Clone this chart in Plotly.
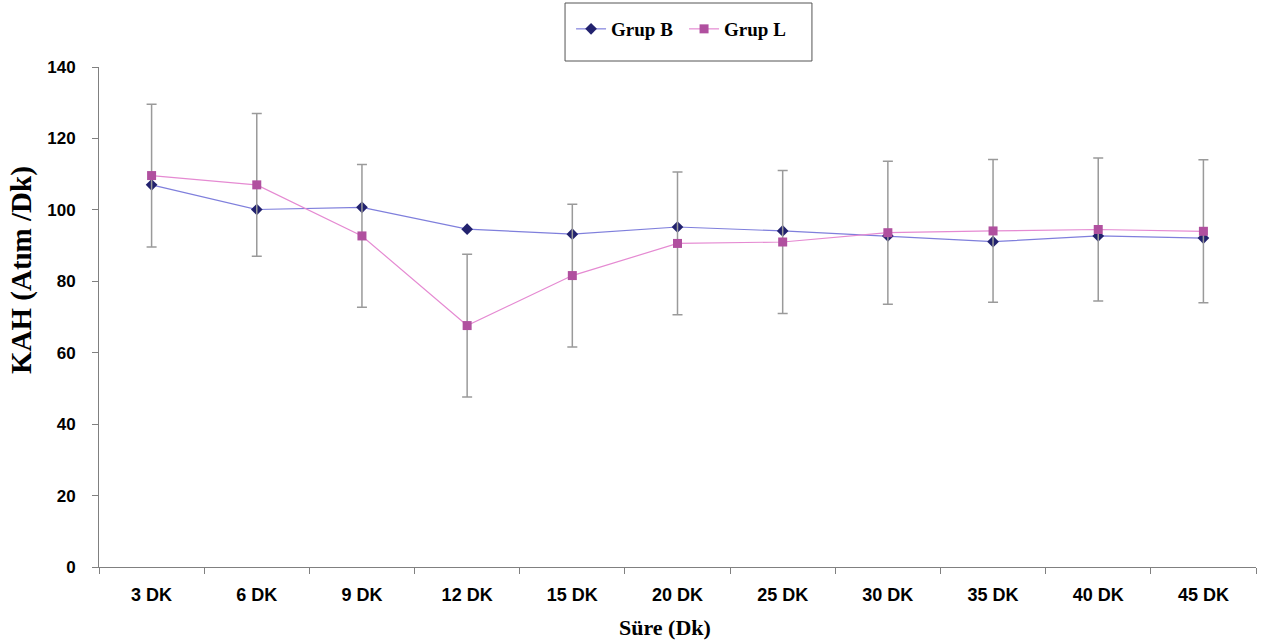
import plotly.graph_objects as go

categories = ["3 DK", "6 DK", "9 DK", "12 DK", "15 DK", "20 DK", "25 DK", "30 DK", "35 DK", "40 DK", "45 DK"]
grup_b = [107.0, 100.1, 100.7, 94.6, 93.2, 95.2, 94.1, 92.7, 91.1, 92.7, 92.1]
grup_l = [109.6, 107.0, 92.7, 67.6, 81.6, 90.6, 91.0, 93.6, 94.1, 94.5, 94.0]
grup_l_sd = [20.0, 20.0, 20.0, 20.0, 20.0, 20.0, 20.0, 20.0, 20.0, 20.0, 20.0]
y_ticks = [0, 20, 40, 60, 80, 100, 120, 140]

fig = go.Figure()
fig.add_trace(go.Scatter(
    x=categories, y=grup_b, name="Grup B", mode="lines+markers",
    line=dict(color="#7f7fdc", width=1.2),
    marker=dict(symbol="diamond", size=9, color="#22226e"),
))
fig.add_trace(go.Scatter(
    x=categories, y=grup_l, name="Grup L", mode="lines+markers",
    line=dict(color="#e58ad2", width=1.2),
    marker=dict(symbol="square", size=9, color="#b0509f"),
    error_y=dict(type="data", array=grup_l_sd, visible=True, color="#9a9a9a", thickness=1.5, width=5),
))

fig.update_layout(
    width=1261, height=644,
    margin=dict(l=99, r=5, t=67, b=77),
    paper_bgcolor="white", plot_bgcolor="white",
    showlegend=True,
    legend=dict(orientation="h", x=0.408, xanchor="left", y=1.076, yanchor="middle",
                font=dict(family="Liberation Serif", size=19, color="black", weight="bold"),
                bgcolor="rgba(0,0,0,0)", borderwidth=0, itemwidth=30,
                entrywidth=68, entrywidthmode="pixels"),
    shapes=[dict(type="rect", xref="paper", yref="paper", x0=0.4028, x1=0.6162, y0=1.012, y1=1.128,
                 line=dict(color="#555555", width=1), fillcolor="rgba(0,0,0,0)")],
    annotations=[
        dict(text="KAH (Atım /Dk)", xref="paper", yref="paper", x=-0.0674, y=0.594, xanchor="center", yanchor="middle",
             textangle=-90, showarrow=False,
             font=dict(family="Liberation Serif", size=29, color="black", weight="bold")),
        dict(text="Süre (Dk)", xref="paper", yref="paper", x=0.489, y=-0.12, xanchor="center", yanchor="middle",
             showarrow=False, font=dict(family="Liberation Serif", size=22, color="black", weight="bold")),
    ],
)
fig.update_xaxes(
    type="category", range=[-0.5, len(categories) - 0.5], showline=True, linecolor="#808080", linewidth=1,
    ticks="outside", tickson="boundaries", ticklen=6, tickcolor="#808080",
    showgrid=False, zeroline=False, ticklabelstandoff=11,
    tickfont=dict(family="Liberation Sans", size=18, color="black", weight="bold"),
)
fig.update_yaxes(
    range=[0, 140], tickvals=y_ticks, showline=True, linecolor="#808080", linewidth=1,
    ticks="outside", ticklen=6, tickcolor="#808080", showgrid=False, zeroline=False,
    ticklabelstandoff=13,
    tickfont=dict(family="Liberation Sans", size=17, color="black", weight="bold"),
)

fig.write_html("out.html", config={"displayModeBar": False},
               post_script="document.body.style.margin='0';document.body.style.overflow='hidden';")
